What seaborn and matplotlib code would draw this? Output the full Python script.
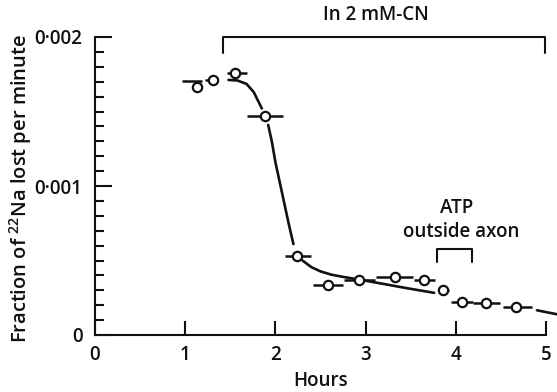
import matplotlib
matplotlib.use("Agg")
import matplotlib.pyplot as plt
import pandas as pd
import seaborn as sns
from matplotlib.ticker import FixedLocator, MultipleLocator, FixedFormatter

# ---- data ----
hours = [1.13, 1.31, 1.555, 1.89, 2.24, 2.58, 2.93, 3.33, 3.65, 3.86, 4.07, 4.34, 4.67]
fraction = [1.662e-3, 1.711e-3, 1.756e-3, 1.470e-3, 0.530e-3, 0.335e-3, 0.366e-3,
            0.386e-3, 0.366e-3, 0.302e-3, 0.224e-3, 0.214e-3, 0.190e-3]
bar_start = [0.96, 1.22, 1.46, 1.68, 2.11, 2.42, 2.76, 3.12, 3.54, 3.80, 3.95, 4.19, 4.52]
bar_end = [1.19, 1.31, 1.68, 2.08, 2.40, 2.75, 3.10, 3.53, 3.77, 3.92, 4.19, 4.49, 4.84]
bar_level = [1.707e-3, 1.711e-3, 1.756e-3, 1.470e-3, 0.530e-3, 0.335e-3, 0.366e-3,
             0.386e-3, 0.366e-3, 0.302e-3, 0.224e-3, 0.214e-3, 0.190e-3]

curve_segment = ["a"] * 5 + ["b"] * 7 + ["c"] * 9 + ["d"] * 2
curve_hours = [1.48, 1.58, 1.68, 1.76, 1.85,
               1.92, 1.96, 2.00, 2.05, 2.10, 2.15, 2.20,
               2.30, 2.40, 2.50, 2.62, 2.75, 2.93, 3.16, 3.45, 3.76,
               4.90, 5.13]
curve_fraction = [1.712e-3, 1.708e-3, 1.685e-3, 1.630e-3, 1.520e-3,
                  1.410e-3, 1.300e-3, 1.160e-3, 1.020e-3, 0.880e-3, 0.740e-3, 0.610e-3,
                  0.500e-3, 0.455e-3, 0.427e-3, 0.405e-3, 0.390e-3, 0.372e-3, 0.347e-3,
                  0.315e-3, 0.283e-3,
                  0.166e-3, 0.138e-3]

x_ticks = [0, 1, 2, 3, 4, 5]
x_tick_labels = ["0", "1", "2", "3", "4", "5"]
y_ticks = [0, 0.001, 0.002]
y_tick_labels = ["0", "0\u00b7001", "0\u00b7002"]

cn_span = [1.415, 4.99]
cn_label = "In 2 mM-CN"
atp_span = [3.795, 4.176]
atp_label = ["ATP", "outside axon"]

# ---- style ----
sns.set_theme(style="ticks")
plt.rcParams["font.family"] = ["Open Sans", "DejaVu Sans"]
plt.rcParams["font.weight"] = "semibold"
plt.rcParams["axes.labelweight"] = "semibold"
plt.rcParams["mathtext.default"] = "regular"
FS = 13.5
INK = "#111111"

fig = plt.figure(figsize=(5.57, 3.92), dpi=100)
ax = fig.add_axes([95 / 557, 1 - 335 / 392, (546 - 95) / 557, (335 - 37) / 392])

points = pd.DataFrame({"hours": hours, "fraction": fraction})
curve = pd.DataFrame({"hours": curve_hours, "fraction": curve_fraction, "seg": curve_segment})

sns.lineplot(data=curve, x="hours", y="fraction", units="seg", estimator=None,
             sort=False, color=INK, linewidth=1.9, ax=ax, legend=False)
for ln in ax.lines:
    ln.set_clip_on(False)

ax.hlines(bar_level, bar_start, bar_end, color=INK, linewidth=1.8, zorder=3)

sns.scatterplot(data=points, x="hours", y="fraction", marker="o", s=45,
                facecolor="white", edgecolor=INK, linewidth=1.6, zorder=4, ax=ax,
                legend=False)

ax.set_xlim(0, 5)
ax.set_ylim(0, 0.002)
sns.despine(ax=ax)
for s in ("left", "bottom"):
    ax.spines[s].set_linewidth(1.5)
    ax.spines[s].set_color(INK)

ax.xaxis.set_major_locator(FixedLocator(x_ticks))
ax.xaxis.set_major_formatter(FixedFormatter(x_tick_labels))
ax.yaxis.set_major_locator(FixedLocator(y_ticks))
ax.yaxis.set_major_formatter(FixedFormatter(y_tick_labels))
ax.yaxis.set_minor_locator(MultipleLocator(0.0001))

ax.tick_params(axis="x", which="major", direction="in", length=10, width=1.5,
               color=INK, labelsize=FS, pad=7, labelcolor=INK)
ax.tick_params(axis="y", which="major", direction="in", length=12, width=1.5,
               color=INK, labelsize=FS, pad=9, labelcolor=INK)
ax.tick_params(axis="y", which="minor", direction="in", length=6.5, width=1.5, color=INK)

ax.set_xlabel("Hours", fontsize=FS, color=INK, fontweight="semibold")
ax.set_ylabel("Fraction of $^{22}$Na lost per minute", fontsize=14.5, color=INK,
              fontweight="semibold")
ax.xaxis.set_label_coords(0.5, -0.155)
ax.yaxis.set_label_coords(-0.166, 0.49)
ax.xaxis.label.set_va("center")
ax.yaxis.label.set_va("center")

# CN bracket
ax.plot([cn_span[0], cn_span[0], cn_span[1], cn_span[1]],
        [0.00189, 0.002, 0.002, 0.00189], color=INK, linewidth=1.5, clip_on=False)
ax.text(3.11, 0.00215, cn_label, ha="center", va="center", fontsize=FS, color=INK,
        clip_on=False)

# ATP bracket
ax.plot([atp_span[0], atp_span[0], atp_span[1], atp_span[1]],
        [0.000492, 0.000579, 0.000579, 0.000492], color=INK, linewidth=1.5)
ax.text(4.01, 0.00085, atp_label[0], ha="center", va="center", fontsize=FS, color=INK)
ax.text(4.065, 0.000694, atp_label[1], ha="center", va="center", fontsize=FS, color=INK)

fig.savefig("out.png", dpi=100)
